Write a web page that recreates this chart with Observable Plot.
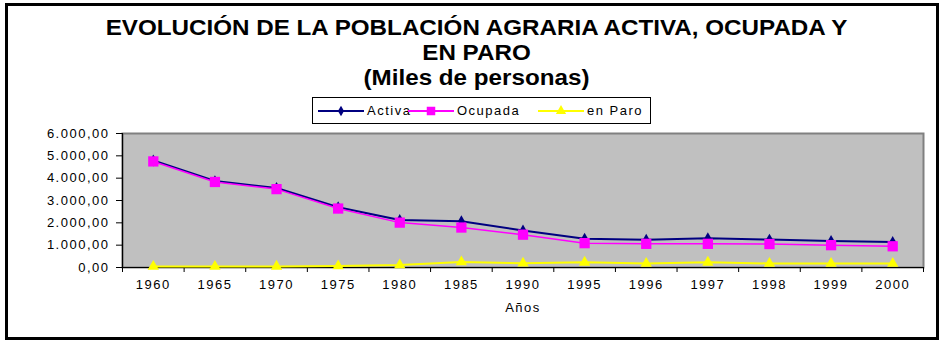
<!DOCTYPE html>
<html><head><meta charset="utf-8">
<script src="https://cdn.jsdelivr.net/npm/d3@7"></script>
<script src="https://cdn.jsdelivr.net/npm/@observablehq/plot@0.6"></script>
<style>
body{margin:0;background:#fff;font-family:"Liberation Sans",Arial,sans-serif;color:#000;}
#wrap{position:relative;width:945px;height:348px;overflow:hidden;background:#fff;}
#box{position:absolute;left:5px;top:3px;width:928px;height:331px;border:3px solid #000;pointer-events:none;}
.t{position:absolute;left:4px;width:945px;text-align:center;font-weight:bold;white-space:nowrap;transform:scaleX(1.1);transform-origin:center;}
#t1{top:16px;font-size:22px;line-height:24px;}
#t2{top:41px;font-size:22px;line-height:24px;}
#t3{top:66px;font-size:22px;line-height:24px;}
#legend{position:absolute;left:312px;top:97px;width:337px;height:25px;border:1px solid #000;background:#fff;}
#legend .it{position:absolute;top:0;height:25px;display:flex;align-items:center;font-size:13px;letter-spacing:1.5px;}
#chart{position:absolute;left:0;top:0;}
</style>
</head><body>
<div id="wrap">
  <div id="chart"></div>
  <div class="t" id="t1">EVOLUCIÓN DE LA POBLACIÓN AGRARIA ACTIVA, OCUPADA Y</div>
  <div class="t" id="t2">EN PARO</div>
  <div class="t" id="t3">(Miles de personas)</div>
  <div id="legend"></div>
  <div id="box"></div>
</div>
<script>
const years = ["1960","1965","1970","1975","1980","1985","1990","1995","1996","1997","1998","1999","2000"];
const activa  = [4790, 3870, 3560, 2700, 2130, 2070, 1660, 1290, 1240, 1310, 1250, 1190, 1140];
const ocupada = [4750, 3830, 3510, 2640, 2010, 1790, 1470, 1090, 1060, 1060, 1050, 1000, 950];
const paro    = [40, 40, 50, 70, 110, 250, 190, 230, 180, 230, 180, 180, 180];
const seriesNames = ["Activa", "Ocupada", "en Paro"];
const seriesColors = ["#000080", "#ff00ff", "#ffff00"];
const seriesSymbols = ["diamond", "square", "triangle"];
const yTicks = [0, 1000, 2000, 3000, 4000, 5000, 6000];

const locale = d3.formatLocale({decimal: ",", thousands: ".", grouping: [3], currency: ["", "€"]});
const fmt = locale.format(",.2f");

const rows = [];
[activa, ocupada, paro].forEach((vals, s) => {
  vals.forEach((v, i) => rows.push({i, year: years[i], value: v, series: seriesNames[s]}));
});

const marks = [
  Plot.frame({fill: "#c0c0c0", stroke: "#808080", strokeWidth: 2}),
  Plot.ruleX([-0.5], {stroke: "#000", strokeWidth: 1.2}),
  Plot.ruleY([0], {stroke: "#000", strokeWidth: 1.2}),
  Plot.axisY(yTicks, {tickSize: 6, tickPadding: 7, tickFormat: fmt, fontSize: 13, label: null, stroke: "#000"}),
  Plot.axisX(d3.range(-0.5, years.length, 1), {tickSize: 5, text: null, label: null, stroke: "#000"}),
  Plot.axisX(d3.range(years.length), {tickSize: 0, tickPadding: 12, tickFormat: i => years[i], fontSize: 13, label: null}),
  Plot.text(["Años"], {frameAnchor: "bottom", dy: 44, fontSize: 13, fill: "#000"})
];
seriesNames.forEach((name, s) => {
  const d = rows.filter(r => r.series === name);
  marks.push(Plot.line(d, {x: "i", y: "value", stroke: seriesColors[s], strokeWidth: s === 1 ? 1.5 : 2}));
});
seriesNames.forEach((name, s) => {
  const d = rows.filter(r => r.series === name);
  marks.push(Plot.dot(d, {x: "i", y: "value", symbol: seriesSymbols[s], fill: seriesColors[s], stroke: "none", r: [3.6, 5.8, 4.2][s]}));
});

const chart = Plot.plot({
  width: 945, height: 348,
  marginLeft: 122, marginRight: 22, marginTop: 133, marginBottom: 81,
  x: {type: "linear", domain: [-0.5, years.length - 0.5], axis: null},
  y: {domain: [0, 6000], axis: null},
  style: {fontFamily: "Liberation Sans, Arial, sans-serif", color: "#000", background: "transparent", overflow: "visible", letterSpacing: "1.5px"},
  marks
});
document.getElementById("chart").appendChild(chart);

// legend
const lg = d3.select("#legend");
const itemLeft = [5, 95, 225];
seriesNames.forEach((name, s) => {
  const it = lg.append("div").attr("class", "it").style("left", itemLeft[s] + "px");
  const svg = it.append("svg").attr("width", 46).attr("height", 14);
  svg.append("line").attr("x1", 0).attr("x2", 46).attr("y1", 7).attr("y2", 7)
    .attr("stroke", seriesColors[s]).attr("stroke-width", 2);
  const sym = {diamond: d3.symbolDiamond, square: d3.symbolSquare, triangle: d3.symbolTriangle}[seriesSymbols[s]];
  const r = [3.2, 4.8, 3.8][s];
  svg.append("path").attr("transform", "translate(23,7)")
    .attr("d", d3.symbol(sym, Math.PI * r * r)()).attr("fill", seriesColors[s]);
  it.append("span").style("margin-left", "3px").text(name);
});
</script>
</body></html>
